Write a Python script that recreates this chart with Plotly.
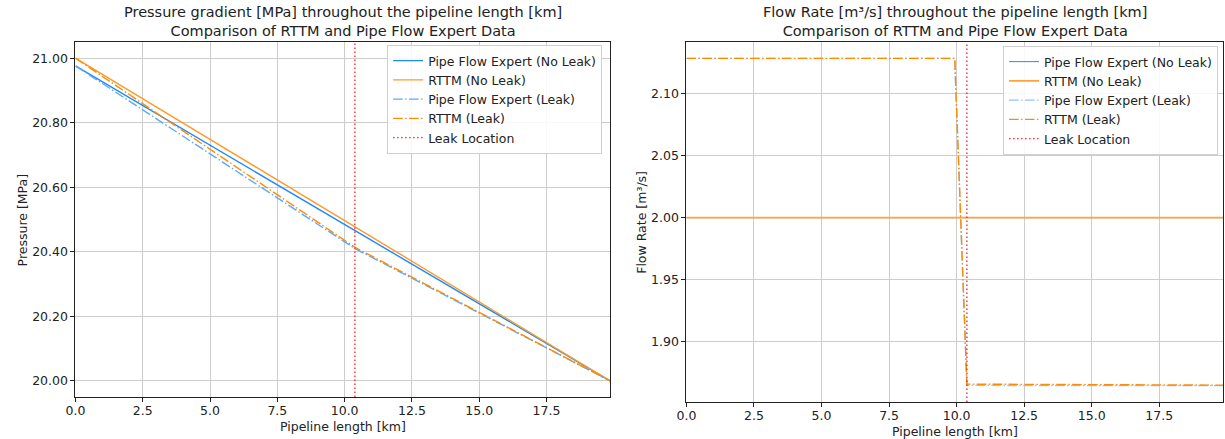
import plotly.graph_objects as go

# Pipeline geometry [km]
LENGTH_KM = 19.86
LEAK_KM = 10.38

# Pressure profiles [MPa] sampled at inlet, leak point and outlet
pressure_km = [0.0, LEAK_KM, LENGTH_KM]
pfe_pressure_noleak = [20.976, 20.466, 20.000]
rttm_pressure_noleak = [21.000, 20.477, 20.000]
pfe_pressure_leak = [20.976, 20.410, 20.000]
rttm_pressure_leak = [21.000, 20.414, 20.000]

# Flow rate profiles [m3/s]
flow_km = [0.0, 9.93, LEAK_KM, LENGTH_KM]
pfe_flow_noleak = [2.000, 2.000, 2.000, 2.000]
rttm_flow_noleak = [2.000, 2.000, 2.000, 2.000]
pfe_flow_leak = [2.1282, 2.1282, 1.8650, 1.8648]
rttm_flow_leak = [2.1282, 2.1282, 1.8660, 1.8652]

# Tick labels
x_ticks = [0.0, 2.5, 5.0, 7.5, 10.0, 12.5, 15.0, 17.5]
pressure_ticks = [20.0, 20.2, 20.4, 20.6, 20.8, 21.0]
flow_ticks = [1.90, 1.95, 2.00, 2.05, 2.10]

FONT = "DejaVu Sans"
W, H = 1225, 439


def padded(values, frac=0.05):
    lo, hi = min(values), max(values)
    pad = (hi - lo) * frac
    return [lo - pad, hi + pad]


p_range = padded(pfe_pressure_noleak + rttm_pressure_noleak + pfe_pressure_leak + rttm_pressure_leak)
q_range = padded(pfe_flow_noleak + rttm_flow_noleak + pfe_flow_leak + rttm_flow_leak)

DASHDOT = "9.6px,2.4px,1.5px,2.4px"
DOTTED = "1.5px,2.5px"

fig = go.Figure()


def add_panel(xa, ya, legend, xs, series, colors, widths, yrange):
    names = ["Pipe Flow Expert (No Leak)", "RTTM (No Leak)",
             "Pipe Flow Expert (Leak)", "RTTM (Leak)"]
    dashes = ["solid", "solid", DASHDOT, DASHDOT]
    for name, ys, col, wd, dash in zip(names, series, colors, widths, dashes):
        fig.add_trace(go.Scatter(
            x=xs, y=ys, mode="lines", name=name,
            line=dict(color=col, width=wd, dash=dash),
            xaxis=xa, yaxis=ya, legend=legend))
    fig.add_trace(go.Scatter(
        x=[LEAK_KM, LEAK_KM], y=yrange, mode="lines", name="Leak Location",
        line=dict(color="rgba(255,20,20,0.9)", width=1.4, dash=DOTTED),
        xaxis=xa, yaxis=ya, legend=legend))


add_panel("x", "y", "legend", pressure_km,
          [pfe_pressure_noleak, rttm_pressure_noleak, pfe_pressure_leak, rttm_pressure_leak],
          ["#1e88ff", "#ff9a26", "#5aa9ff", "#ff8c00"], [1.4, 1.4, 1.4, 1.4], p_range)
add_panel("x2", "y2", "legend2", flow_km,
          [pfe_flow_noleak, rttm_flow_noleak, pfe_flow_leak, rttm_flow_leak],
          ["#3a86e0", "#ffa43a", "#8cc4ff", "#ff8c00"], [1.0, 1.8, 1.4, 1.4], q_range)

# Plot frames (pixel positions converted to paper fractions)
L1, R1 = 66, 605
L2, R2 = 682, 1223
TOP = 42
B1, B2 = 397, 402

axis_common = dict(
    showgrid=True, gridcolor="#cdcdcd", gridwidth=1,
    showline=True, linecolor="#222", linewidth=1, mirror=True,
    ticks="outside", ticklen=4, tickcolor="#222", tickwidth=1,
    tickfont=dict(family=FONT, size=12.5, color="#222"),
    zeroline=False,
)

legend_common = dict(
    xanchor="right", yanchor="top",
    bgcolor="rgba(255,255,255,0.85)", bordercolor="#d0d0d0", borderwidth=1,
    font=dict(family=FONT, size=12.5, color="#222"), tracegroupgap=0,
)

fig.update_layout(
    width=W, height=H,
    margin=dict(l=0, r=0, t=0, b=0),
    paper_bgcolor="white", plot_bgcolor="white",
    font=dict(family=FONT, size=12.5, color="#222"),
    xaxis=dict(domain=[L1 / W, R1 / W], range=[0, LENGTH_KM], tickvals=x_ticks,
               tickformat=".1f", anchor="y", ticklabelstandoff=-2, **axis_common),
    yaxis=dict(domain=[1 - B1 / H, 1 - TOP / H], range=p_range, tickvals=pressure_ticks,
               tickformat=".2f", anchor="x", **axis_common),
    xaxis2=dict(domain=[L2 / W, R2 / W], range=[0, LENGTH_KM], tickvals=x_ticks,
                tickformat=".1f", anchor="y2", ticklabelstandoff=-2, **axis_common),
    yaxis2=dict(domain=[1 - B2 / H, 1 - TOP / H], range=q_range, tickvals=flow_ticks,
                tickformat=".2f", anchor="x2", **axis_common),
    legend=dict(x=597 / W, y=1 - 45 / H, **legend_common),
    legend2=dict(x=1218 / W, y=1 - 46 / H, **legend_common),
)

title_font = dict(family=FONT, size=14.5, color="#222")
label_font = dict(family=FONT, size=12.5, color="#222")
ann = [
    dict(text="Pressure gradient [MPa] throughout the pipeline length [km]<br>"
              "Comparison of RTTM and Pipe Flow Expert Data",
         x=(L1 + R1) / 2 / W, y=1 - 2 / H, xanchor="center", yanchor="top", font=title_font),
    dict(text="Flow Rate [m³/s] throughout the pipeline length [km]<br>"
              "Comparison of RTTM and Pipe Flow Expert Data",
         x=(L2 + R2) / 2 / W, y=1 - 2 / H, xanchor="center", yanchor="top", font=title_font),
    dict(text="Pipeline length [km]", x=(L1 + R1) / 2 / W, y=1 - 426 / H,
         xanchor="center", yanchor="middle", font=label_font),
    dict(text="Pipeline length [km]", x=(L2 + R2) / 2 / W, y=1 - 431 / H,
         xanchor="center", yanchor="middle", font=label_font),
    dict(text="Pressure [MPa]", x=13 / W, y=1 - (TOP + B1) / 2 / H, textangle=-90,
         xanchor="center", yanchor="middle", font=label_font),
    dict(text="Flow Rate [m³/s]", x=636 / W, y=1 - (TOP + B2) / 2 / H, textangle=-90,
         xanchor="center", yanchor="middle", font=label_font),
]
for a in ann:
    fig.add_annotation(xref="paper", yref="paper", showarrow=False, **a)

fig.write_html("out.html")
